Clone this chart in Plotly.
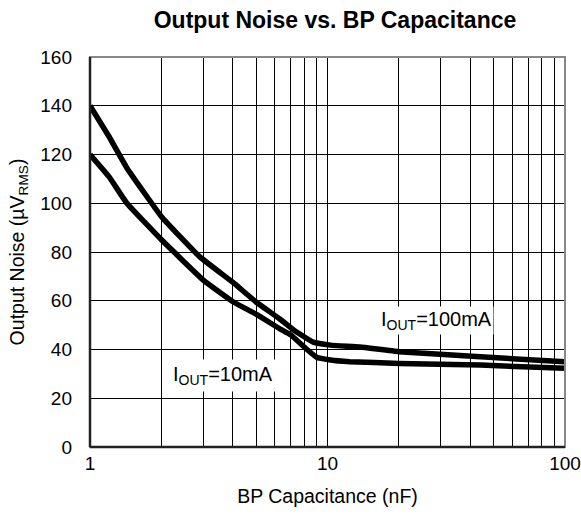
import plotly.graph_objects as go

cap_100 = [1, 1.2, 1.43, 2, 2.9, 4, 5, 6.3, 7.2, 8.7, 10.3, 13.7, 20, 44, 100]
noise_100 = [140, 127.5, 114.5, 94.5, 78, 67.5, 59.5, 52.5, 48, 43, 41.8, 41, 39.1, 37, 35]

cap_10 = [1, 1.2, 1.43, 2, 3, 4, 5, 6.3, 7, 8.2, 9, 10.3, 12.4, 20, 44, 100]
noise_10 = [120, 111, 100, 85, 68.5, 59.6, 54.5, 48.5, 46, 40, 36.8, 35.7, 35, 34.3, 33.6, 32.3]

y_ticks = [0, 20, 40, 60, 80, 100, 120, 140, 160]
x_ticks = [1, 10, 100]

FONT = "Liberation Sans, Arial, sans-serif"

fig = go.Figure()
fig.add_trace(go.Scatter(x=cap_100, y=noise_100, mode="lines",
                         line=dict(color="black", width=5.5, shape="spline", smoothing=0.3),
                         showlegend=False))
fig.add_trace(go.Scatter(x=cap_10, y=noise_10, mode="lines",
                         line=dict(color="black", width=5.5, shape="spline", smoothing=0.3),
                         showlegend=False))

fig.add_annotation(x=0.56, y=29.5, xref="x", yref="y",
                   text="I<sub>OUT</sub>=10mA", showarrow=False,
                   font=dict(family=FONT, size=20, color="black"),
                   bgcolor="white", borderpad=3)
fig.add_annotation(x=1.457, y=51.8, xref="x", yref="y",
                   text="I<sub>OUT</sub>=100mA", showarrow=False,
                   font=dict(family=FONT, size=20, color="black"),
                   bgcolor="white", borderpad=1)

fig.add_shape(type="rect", xref="paper", yref="paper", x0=0, y0=0, x1=1, y1=1,
              line=dict(color="#888888", width=2), layer="above")
fig.add_shape(type="line", xref="paper", yref="paper", x0=0, y0=0, x1=0, y1=1,
              line=dict(color="#222222", width=2.5), layer="above")
fig.add_shape(type="line", xref="paper", yref="paper", x0=0, y0=0, x1=1, y1=0,
              line=dict(color="#222222", width=2.5), layer="above")

fig.update_layout(
    width=581, height=515,
    margin=dict(l=90, r=16, t=57, b=68, autoexpand=False),
    paper_bgcolor="white", plot_bgcolor="white",
    font=dict(family=FONT, size=19, color="black"),
    hovermode=False,
    title=dict(text="<b>Output Noise vs. BP Capacitance</b>", x=0.5766, xanchor="center",
               y=0.961, yanchor="middle", automargin=False,
               font=dict(family=FONT, size=23, color="black")),
    xaxis=dict(type="log", range=[0, 2], tickvals=x_ticks, ticktext=[str(v) for v in x_ticks],
               showgrid=True, gridcolor="black", gridwidth=1,
               minor=dict(dtick="D1", showgrid=True, gridcolor="black", gridwidth=1, ticks=""),
               showline=False, ticks="", zeroline=False, automargin=False,
               ticklabelstandoff=3,
               title=dict(text="BP Capacitance (nF)", font=dict(family=FONT, size=19.5), standoff=16),
               tickfont=dict(family=FONT, size=19)),
    yaxis=dict(range=[0, 160], tickvals=y_ticks, showgrid=True, gridcolor="black", gridwidth=1,
               showline=False, ticks="", zeroline=False, automargin=False,
               ticklabelstandoff=17,
               title=dict(text="Output Noise (µV<sub>RMS</sub>)", font=dict(family=FONT, size=19.5), standoff=10),
               tickfont=dict(family=FONT, size=19)),
)

fig.write_html("out.html", config={"displayModeBar": False, "staticPlot": True},
               post_script="document.body.style.margin='0';document.body.style.overflow='hidden';")
